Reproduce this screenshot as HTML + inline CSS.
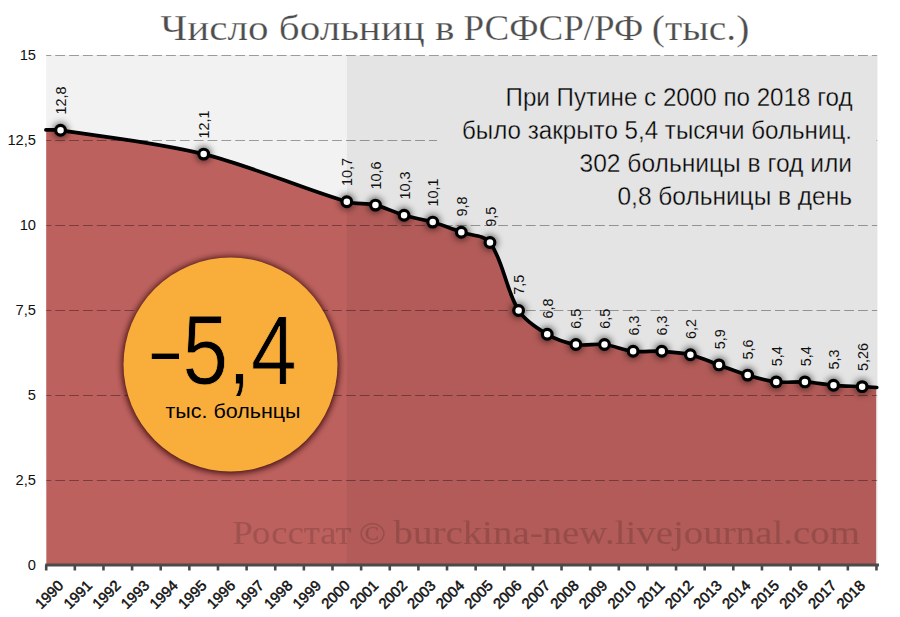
<!DOCTYPE html>
<html><head><meta charset="utf-8"><style>
html,body{margin:0;padding:0;background:#fff;width:900px;height:617px;overflow:hidden}
svg{display:block}
</style></head><body>
<svg width="900" height="617" viewBox="0 0 900 617">
<defs>
<filter id="glow" x="-100%" y="-100%" width="300%" height="300%"><feGaussianBlur stdDeviation="3.5"/></filter>
<filter id="cshadow" x="-20%" y="-20%" width="140%" height="140%"><feGaussianBlur stdDeviation="3"/></filter>
<clipPath id="plotclip"><rect x="46.2" y="0" width="829.97" height="617"/></clipPath>
</defs>
<rect x="0" y="0" width="900" height="617" fill="#ffffff"/>
<g font-family="'Liberation Serif', serif" font-size="36.5" fill="#4d4d4d" stroke="#fff" stroke-width="0.25">
<text x="160.5" y="40.3" textLength="294" lengthAdjust="spacingAndGlyphs">Число больниц в</text>
<text x="463.5" y="40.3" textLength="179.8" lengthAdjust="spacingAndGlyphs">РСФСР/РФ</text>
<text x="651.8" y="40.3" textLength="97.5" lengthAdjust="spacingAndGlyphs">(тыс.)</text>
</g>
<rect x="46.2" y="55" width="300.50" height="510.0" fill="#f2f2f2"/>
<rect x="346.7" y="55" width="530.77" height="510.0" fill="#f2f2f2"/>
<path d="M45.90,129.96 C50.77,130.07 55.70,129.56 60.52,130.30 C108.29,137.61 156.87,142.43 203.67,154.10 C252.31,166.23 298.74,187.43 346.81,201.70 C356.00,204.43 366.15,202.89 375.44,205.10 C385.24,207.43 394.38,212.42 404.07,215.30 C413.46,218.09 423.32,219.31 432.70,222.10 C442.40,224.98 451.79,228.90 461.33,232.30 C470.88,235.70 484.40,234.90 489.96,242.50 C503.48,260.96 505.91,290.16 518.60,310.50 C525.00,320.76 536.72,328.06 547.23,334.30 C555.80,339.39 566.03,342.75 575.86,344.50 C585.11,346.15 595.07,343.38 604.49,344.50 C614.16,345.65 623.44,350.15 633.12,351.30 C642.53,352.42 652.24,350.74 661.75,351.30 C671.32,351.87 681.08,352.49 690.38,354.70 C700.17,357.03 709.46,361.50 719.00,364.90 C728.55,368.30 737.94,372.22 747.63,375.10 C757.02,377.89 766.59,380.75 776.26,381.90 C785.68,383.02 795.39,381.34 804.89,381.90 C814.47,382.47 823.95,384.50 833.52,385.30 C843.04,386.09 852.61,386.17 862.15,386.66 C867.03,386.91 871.90,387.23 876.77,387.51 L876.47,565.00 L46.20,565.00 Z" fill="#bd615e" clip-path="url(#plotclip)"/>
<g stroke="rgba(0,0,0,0.36)" stroke-width="1.2" stroke-dasharray="9.8 4.04" stroke-dashoffset="4.74"><line x1="46.2" y1="55.5" x2="877.17" y2="55.5" /><line x1="46.2" y1="140.5" x2="877.17" y2="140.5" /><line x1="46.2" y1="225.5" x2="877.17" y2="225.5" /><line x1="46.2" y1="310.5" x2="877.17" y2="310.5" /><line x1="46.2" y1="395.5" x2="877.17" y2="395.5" /><line x1="46.2" y1="480.5" x2="877.17" y2="480.5" /></g>
<rect x="346.7" y="56.0" width="530.77" height="509.0" fill="rgba(0,0,0,0.055)"/>
<rect x="437" y="70" width="439.47" height="145" fill="#e4e4e4"/>
<g font-family="'Liberation Serif', serif" font-size="34" fill="#000" stroke="#000" stroke-width="0.15" opacity="0.15">
<text x="232.5" y="544" textLength="119" lengthAdjust="spacingAndGlyphs">Росстат</text>
<text x="359" y="544" font-size="31" textLength="27" lengthAdjust="spacingAndGlyphs">©</text>
<text x="393.5" y="544" textLength="466.5" lengthAdjust="spacingAndGlyphs">burckina-new.livejournal.com</text>
</g>
<g font-family="'Liberation Sans', sans-serif" font-size="25.4" fill="#000" stroke="#e4e4e4" stroke-width="0.35">
<text x="505.5" y="106.3" textLength="347" lengthAdjust="spacingAndGlyphs">При Путине с 2000 по 2018 год</text>
<text x="462" y="139.1" textLength="390" lengthAdjust="spacingAndGlyphs">было закрыто 5,4 тысячи больниц.</text>
<text x="579.5" y="171.9" textLength="272.5" lengthAdjust="spacingAndGlyphs">302 больницы в год или</text>
<text x="617.5" y="204.7" textLength="234.5" lengthAdjust="spacingAndGlyphs">0,8 больницы в день</text>
</g>
<path d="M45.90,129.96 C50.77,130.07 55.70,129.56 60.52,130.30 C108.29,137.61 156.87,142.43 203.67,154.10 C252.31,166.23 298.74,187.43 346.81,201.70 C356.00,204.43 366.15,202.89 375.44,205.10 C385.24,207.43 394.38,212.42 404.07,215.30 C413.46,218.09 423.32,219.31 432.70,222.10 C442.40,224.98 451.79,228.90 461.33,232.30 C470.88,235.70 484.40,234.90 489.96,242.50 C503.48,260.96 505.91,290.16 518.60,310.50 C525.00,320.76 536.72,328.06 547.23,334.30 C555.80,339.39 566.03,342.75 575.86,344.50 C585.11,346.15 595.07,343.38 604.49,344.50 C614.16,345.65 623.44,350.15 633.12,351.30 C642.53,352.42 652.24,350.74 661.75,351.30 C671.32,351.87 681.08,352.49 690.38,354.70 C700.17,357.03 709.46,361.50 719.00,364.90 C728.55,368.30 737.94,372.22 747.63,375.10 C757.02,377.89 766.59,380.75 776.26,381.90 C785.68,383.02 795.39,381.34 804.89,381.90 C814.47,382.47 823.95,384.50 833.52,385.30 C843.04,386.09 852.61,386.17 862.15,386.66 C867.03,386.91 871.90,387.23 876.77,387.51" fill="none" stroke="#000" stroke-width="3.7" stroke-linejoin="round" stroke-linecap="round"/>
<g fill="rgba(0,0,0,0.62)" filter="url(#glow)"><circle cx="60.52" cy="130.30" r="7.5"/><circle cx="203.67" cy="154.10" r="7.5"/><circle cx="346.81" cy="201.70" r="7.5"/><circle cx="375.44" cy="205.10" r="7.5"/><circle cx="404.07" cy="215.30" r="7.5"/><circle cx="432.70" cy="222.10" r="7.5"/><circle cx="461.33" cy="232.30" r="7.5"/><circle cx="489.96" cy="242.50" r="7.5"/><circle cx="518.60" cy="310.50" r="7.5"/><circle cx="547.23" cy="334.30" r="7.5"/><circle cx="575.86" cy="344.50" r="7.5"/><circle cx="604.49" cy="344.50" r="7.5"/><circle cx="633.12" cy="351.30" r="7.5"/><circle cx="661.75" cy="351.30" r="7.5"/><circle cx="690.38" cy="354.70" r="7.5"/><circle cx="719.00" cy="364.90" r="7.5"/><circle cx="747.63" cy="375.10" r="7.5"/><circle cx="776.26" cy="381.90" r="7.5"/><circle cx="804.89" cy="381.90" r="7.5"/><circle cx="833.52" cy="385.30" r="7.5"/><circle cx="862.15" cy="386.66" r="7.5"/></g>
<g fill="#fff" stroke="#000" stroke-width="3.2"><circle cx="60.52" cy="130.30" r="4.85"/><circle cx="203.67" cy="154.10" r="4.85"/><circle cx="346.81" cy="201.70" r="4.85"/><circle cx="375.44" cy="205.10" r="4.85"/><circle cx="404.07" cy="215.30" r="4.85"/><circle cx="432.70" cy="222.10" r="4.85"/><circle cx="461.33" cy="232.30" r="4.85"/><circle cx="489.96" cy="242.50" r="4.85"/><circle cx="518.60" cy="310.50" r="4.85"/><circle cx="547.23" cy="334.30" r="4.85"/><circle cx="575.86" cy="344.50" r="4.85"/><circle cx="604.49" cy="344.50" r="4.85"/><circle cx="633.12" cy="351.30" r="4.85"/><circle cx="661.75" cy="351.30" r="4.85"/><circle cx="690.38" cy="354.70" r="4.85"/><circle cx="719.00" cy="364.90" r="4.85"/><circle cx="747.63" cy="375.10" r="4.85"/><circle cx="776.26" cy="381.90" r="4.85"/><circle cx="804.89" cy="381.90" r="4.85"/><circle cx="833.52" cy="385.30" r="4.85"/><circle cx="862.15" cy="386.66" r="4.85"/></g>
<g font-family="'Liberation Sans', sans-serif" font-size="15.2" fill="#111"><text transform="translate(66.11,114.60) rotate(-90)" x="0" y="0" textLength="28.02" lengthAdjust="spacingAndGlyphs">12,8</text><text transform="translate(209.27,138.40) rotate(-90)" x="0" y="0" textLength="28.02" lengthAdjust="spacingAndGlyphs">12,1</text><text transform="translate(352.42,186.00) rotate(-90)" x="0" y="0" textLength="28.02" lengthAdjust="spacingAndGlyphs">10,7</text><text transform="translate(381.05,189.40) rotate(-90)" x="0" y="0" textLength="28.02" lengthAdjust="spacingAndGlyphs">10,6</text><text transform="translate(409.68,199.60) rotate(-90)" x="0" y="0" textLength="28.02" lengthAdjust="spacingAndGlyphs">10,3</text><text transform="translate(438.31,206.40) rotate(-90)" x="0" y="0" textLength="28.02" lengthAdjust="spacingAndGlyphs">10,1</text><text transform="translate(466.94,216.60) rotate(-90)" x="0" y="0" textLength="20.02" lengthAdjust="spacingAndGlyphs">9,8</text><text transform="translate(495.56,226.80) rotate(-90)" x="0" y="0" textLength="20.02" lengthAdjust="spacingAndGlyphs">9,5</text><text transform="translate(524.20,294.80) rotate(-90)" x="0" y="0" textLength="20.02" lengthAdjust="spacingAndGlyphs">7,5</text><text transform="translate(552.83,318.60) rotate(-90)" x="0" y="0" textLength="20.02" lengthAdjust="spacingAndGlyphs">6,8</text><text transform="translate(581.46,328.80) rotate(-90)" x="0" y="0" textLength="20.02" lengthAdjust="spacingAndGlyphs">6,5</text><text transform="translate(610.09,328.80) rotate(-90)" x="0" y="0" textLength="20.02" lengthAdjust="spacingAndGlyphs">6,5</text><text transform="translate(638.72,335.60) rotate(-90)" x="0" y="0" textLength="20.02" lengthAdjust="spacingAndGlyphs">6,3</text><text transform="translate(667.35,335.60) rotate(-90)" x="0" y="0" textLength="20.02" lengthAdjust="spacingAndGlyphs">6,3</text><text transform="translate(695.98,339.00) rotate(-90)" x="0" y="0" textLength="20.02" lengthAdjust="spacingAndGlyphs">6,2</text><text transform="translate(724.61,349.20) rotate(-90)" x="0" y="0" textLength="20.02" lengthAdjust="spacingAndGlyphs">5,9</text><text transform="translate(753.24,359.40) rotate(-90)" x="0" y="0" textLength="20.02" lengthAdjust="spacingAndGlyphs">5,6</text><text transform="translate(781.87,366.20) rotate(-90)" x="0" y="0" textLength="20.02" lengthAdjust="spacingAndGlyphs">5,4</text><text transform="translate(810.50,366.20) rotate(-90)" x="0" y="0" textLength="20.02" lengthAdjust="spacingAndGlyphs">5,4</text><text transform="translate(839.12,369.60) rotate(-90)" x="0" y="0" textLength="20.02" lengthAdjust="spacingAndGlyphs">5,3</text><text transform="translate(867.75,370.96) rotate(-90)" x="0" y="0" textLength="28.02" lengthAdjust="spacingAndGlyphs">5,26</text></g>
<g font-family="'Liberation Sans', sans-serif" font-size="14.7" fill="#111" text-anchor="end"><text x="36" y="60.0">15</text><text x="36" y="145.0">12,5</text><text x="36" y="230.0">10</text><text x="36" y="315.0">7,5</text><text x="36" y="400.0">5</text><text x="36" y="485.0">2,5</text><text x="36" y="570.0">0</text></g>
<line x1="45.2" y1="565" x2="878.97" y2="565" stroke="#4a4a4a" stroke-width="3"/>
<g stroke="#4a4a4a" stroke-width="2.6"><line x1="46.20" y1="565" x2="46.20" y2="570.5" /><line x1="74.83" y1="565" x2="74.83" y2="570.5" /><line x1="103.46" y1="565" x2="103.46" y2="570.5" /><line x1="132.09" y1="565" x2="132.09" y2="570.5" /><line x1="160.72" y1="565" x2="160.72" y2="570.5" /><line x1="189.35" y1="565" x2="189.35" y2="570.5" /><line x1="217.98" y1="565" x2="217.98" y2="570.5" /><line x1="246.61" y1="565" x2="246.61" y2="570.5" /><line x1="275.24" y1="565" x2="275.24" y2="570.5" /><line x1="303.87" y1="565" x2="303.87" y2="570.5" /><line x1="332.50" y1="565" x2="332.50" y2="570.5" /><line x1="361.13" y1="565" x2="361.13" y2="570.5" /><line x1="389.76" y1="565" x2="389.76" y2="570.5" /><line x1="418.39" y1="565" x2="418.39" y2="570.5" /><line x1="447.02" y1="565" x2="447.02" y2="570.5" /><line x1="475.65" y1="565" x2="475.65" y2="570.5" /><line x1="504.28" y1="565" x2="504.28" y2="570.5" /><line x1="532.91" y1="565" x2="532.91" y2="570.5" /><line x1="561.54" y1="565" x2="561.54" y2="570.5" /><line x1="590.17" y1="565" x2="590.17" y2="570.5" /><line x1="618.80" y1="565" x2="618.80" y2="570.5" /><line x1="647.43" y1="565" x2="647.43" y2="570.5" /><line x1="676.06" y1="565" x2="676.06" y2="570.5" /><line x1="704.69" y1="565" x2="704.69" y2="570.5" /><line x1="733.32" y1="565" x2="733.32" y2="570.5" /><line x1="761.95" y1="565" x2="761.95" y2="570.5" /><line x1="790.58" y1="565" x2="790.58" y2="570.5" /><line x1="819.21" y1="565" x2="819.21" y2="570.5" /><line x1="847.84" y1="565" x2="847.84" y2="570.5" /><line x1="876.47" y1="565" x2="876.47" y2="570.5" /></g>
<g font-family="'Liberation Sans', sans-serif" font-size="14.8" fill="#111" stroke="#111" stroke-width="0.5" text-anchor="end"><text transform="translate(64.42,586.5) rotate(-45)" x="0" y="0">1990</text><text transform="translate(93.05,586.5) rotate(-45)" x="0" y="0">1991</text><text transform="translate(121.68,586.5) rotate(-45)" x="0" y="0">1992</text><text transform="translate(150.31,586.5) rotate(-45)" x="0" y="0">1993</text><text transform="translate(178.94,586.5) rotate(-45)" x="0" y="0">1994</text><text transform="translate(207.57,586.5) rotate(-45)" x="0" y="0">1995</text><text transform="translate(236.20,586.5) rotate(-45)" x="0" y="0">1996</text><text transform="translate(264.82,586.5) rotate(-45)" x="0" y="0">1997</text><text transform="translate(293.45,586.5) rotate(-45)" x="0" y="0">1998</text><text transform="translate(322.08,586.5) rotate(-45)" x="0" y="0">1999</text><text transform="translate(350.71,586.5) rotate(-45)" x="0" y="0">2000</text><text transform="translate(379.34,586.5) rotate(-45)" x="0" y="0">2001</text><text transform="translate(407.97,586.5) rotate(-45)" x="0" y="0">2002</text><text transform="translate(436.60,586.5) rotate(-45)" x="0" y="0">2003</text><text transform="translate(465.23,586.5) rotate(-45)" x="0" y="0">2004</text><text transform="translate(493.86,586.5) rotate(-45)" x="0" y="0">2005</text><text transform="translate(522.50,586.5) rotate(-45)" x="0" y="0">2006</text><text transform="translate(551.12,586.5) rotate(-45)" x="0" y="0">2007</text><text transform="translate(579.75,586.5) rotate(-45)" x="0" y="0">2008</text><text transform="translate(608.38,586.5) rotate(-45)" x="0" y="0">2009</text><text transform="translate(637.01,586.5) rotate(-45)" x="0" y="0">2010</text><text transform="translate(665.64,586.5) rotate(-45)" x="0" y="0">2011</text><text transform="translate(694.27,586.5) rotate(-45)" x="0" y="0">2012</text><text transform="translate(722.90,586.5) rotate(-45)" x="0" y="0">2013</text><text transform="translate(751.53,586.5) rotate(-45)" x="0" y="0">2014</text><text transform="translate(780.16,586.5) rotate(-45)" x="0" y="0">2015</text><text transform="translate(808.79,586.5) rotate(-45)" x="0" y="0">2016</text><text transform="translate(837.42,586.5) rotate(-45)" x="0" y="0">2017</text><text transform="translate(866.05,586.5) rotate(-45)" x="0" y="0">2018</text></g>
<circle cx="230.5" cy="365.2" r="108.5" fill="rgba(40,0,0,0.85)" filter="url(#cshadow)"/>
<circle cx="230.5" cy="364.5" r="107" fill="#f9ae3b"/>
<rect x="151.8" y="353.6" width="27.2" height="5.4" fill="#000"/>
<text x="182.5" y="384" font-family="'Liberation Sans', sans-serif" font-size="99" textLength="114" lengthAdjust="spacingAndGlyphs" fill="#000" stroke="#f9ae3b" stroke-width="0.9">5,4</text>
<text x="165.5" y="417.5" font-family="'Liberation Sans', sans-serif" font-size="20.5" textLength="135" lengthAdjust="spacingAndGlyphs" fill="#000">тыс. больнцы</text>
</svg>
</body></html>
